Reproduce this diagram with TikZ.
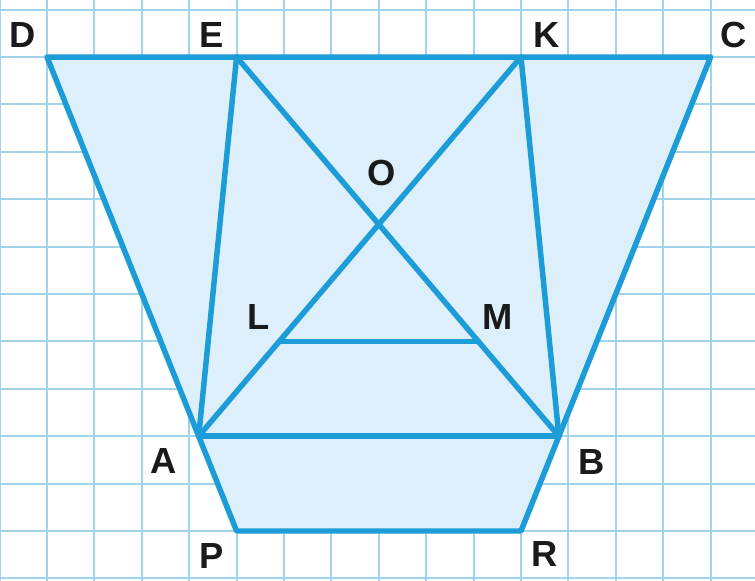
\documentclass[tikz,border=0pt]{standalone}
\usepackage{fontspec}
\setmainfont{Liberation Sans}
\begin{document}
\begin{tikzpicture}[
  gridline/.style={draw=gridblue, line width=1.1pt},
  figline/.style={draw=lineblue, line width=3.3pt, line join=round, line cap=round},
  lbl/.style={inner sep=0pt, font=\fontsize{21.8}{24}\selectfont\bfseries, text=labelblack}
]
\definecolor{gridblue}{HTML}{A3D3EA}
\definecolor{lineblue}{HTML}{1C9DD8}
\definecolor{fillblue}{HTML}{DDEFFA}
\definecolor{labelblack}{HTML}{1A1A1A}
\useasboundingbox (-0.9916,-11.055) rectangle (14.937,1.2025);
\fill[white] (-0.9916,-11.055) rectangle (14.937,1.2025);
\begin{scope}
\clip (-0.9916,-11.055) rectangle (14.937,1.2025);
\foreach \x in {-1,...,15} \draw[gridline] (\x,-11.2) -- (\x,1.3);
\foreach \y in {-11,...,1} \draw[gridline] (-1.1,\y) -- (15.1,\y);
\end{scope}
\coordinate (D) at (0,0);
\coordinate (E) at (4,0);
\coordinate (K) at (10,0);
\coordinate (C) at (14,0);
\coordinate (A) at (3.2,-8);
\coordinate (B) at (10.8,-8);
\coordinate (P) at (4,-10);
\coordinate (R) at (10,-10);
\coordinate (O) at (intersection of E--B and K--A);
\coordinate (L) at (4.9,-6);
\coordinate (M) at (9.1,-6);
\fill[fillblue] (D) -- (C) -- (R) -- (P) -- cycle;
\draw[figline] (D) -- (C) -- (B) -- (R) -- (P) -- (A) -- cycle;
\draw[figline] (A) -- (B);
\draw[figline] (E) -- (A);
\draw[figline] (K) -- (B);
\draw[figline] (E) -- (O) -- (B);
\draw[figline] (K) -- (O) -- (A);
\draw[figline] (L) -- (M);
\node[lbl] (lD) at (-0.517,0.464) {D};
\node[lbl] (lE) at (3.47,0.464) {E};
\node[lbl] (lK) at (10.53,0.464) {K};
\node[lbl] (lC) at (14.49,0.464) {C};
\node[lbl] (lO) at (7.05,-2.44) {O};
\node[lbl] (lL) at (4.47,-5.49) {L};
\node[lbl] (lM) at (9.51,-5.49) {M};
\node[lbl] (lA) at (2.45,-8.52) {A};
\node[lbl] (lB) at (11.48,-8.54) {B};
\node[lbl] (lP) at (3.48,-10.53) {P};
\node[lbl] (lR) at (10.49,-10.49) {R};
\end{tikzpicture}
\end{document}
